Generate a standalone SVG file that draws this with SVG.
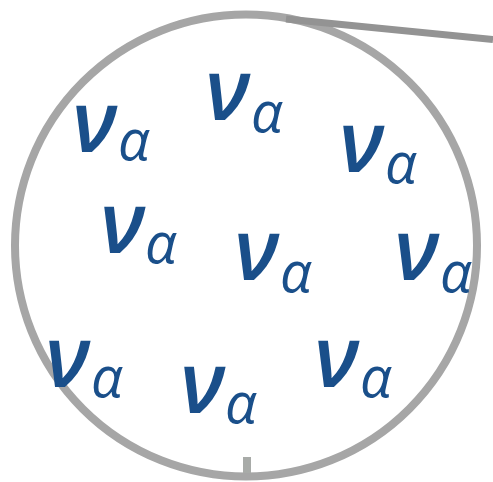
<svg xmlns="http://www.w3.org/2000/svg" width="493" height="482" viewBox="0 0 493 482">
<style>
.n{font-family:"Open Sans","Noto Sans",sans-serif;font-style:italic;font-weight:600;fill:#1a4f8a;font-size:86px}
.a{font-weight:400;font-size:56px}
</style>
<rect width="493" height="482" fill="#fff"/>
<g id="lens">
<circle cx="246" cy="245.5" r="231" fill="none" stroke="#a6a6a6" stroke-width="8"/>
<line x1="286" y1="19" x2="493" y2="39.5" stroke="#939393" stroke-width="7"/>
<rect x="243" y="457" width="8" height="16" fill="#a8aba8"/>
</g>
<g id="nu1"><text class="n" x="72" y="152">ν<tspan class="a" x="118" y="160">α</tspan></text></g>
<g id="nu2"><text class="n" x="205" y="120">ν<tspan class="a" x="251" y="132">α</tspan></text></g>
<g id="nu3"><text class="n" x="339" y="172">ν<tspan class="a" x="385" y="183">α</tspan></text></g>
<g id="nu4"><text class="n" x="100" y="253">ν<tspan class="a" x="145" y="263">α</tspan></text></g>
<g id="nu5"><text class="n" x="234" y="280">ν<tspan class="a" x="280" y="292">α</tspan></text></g>
<g id="nu6"><text class="n" x="394" y="280">ν<tspan class="a" x="440" y="292">α</tspan></text></g>
<g id="nu7"><text class="n" x="45" y="387">ν<tspan class="a" x="91" y="397">α</tspan></text></g>
<g id="nu8"><text class="n" x="180" y="413">ν<tspan class="a" x="225" y="423">α</tspan></text></g>
<g id="nu9"><text class="n" x="314" y="387">ν<tspan class="a" x="360" y="397">α</tspan></text></g>
</svg>
